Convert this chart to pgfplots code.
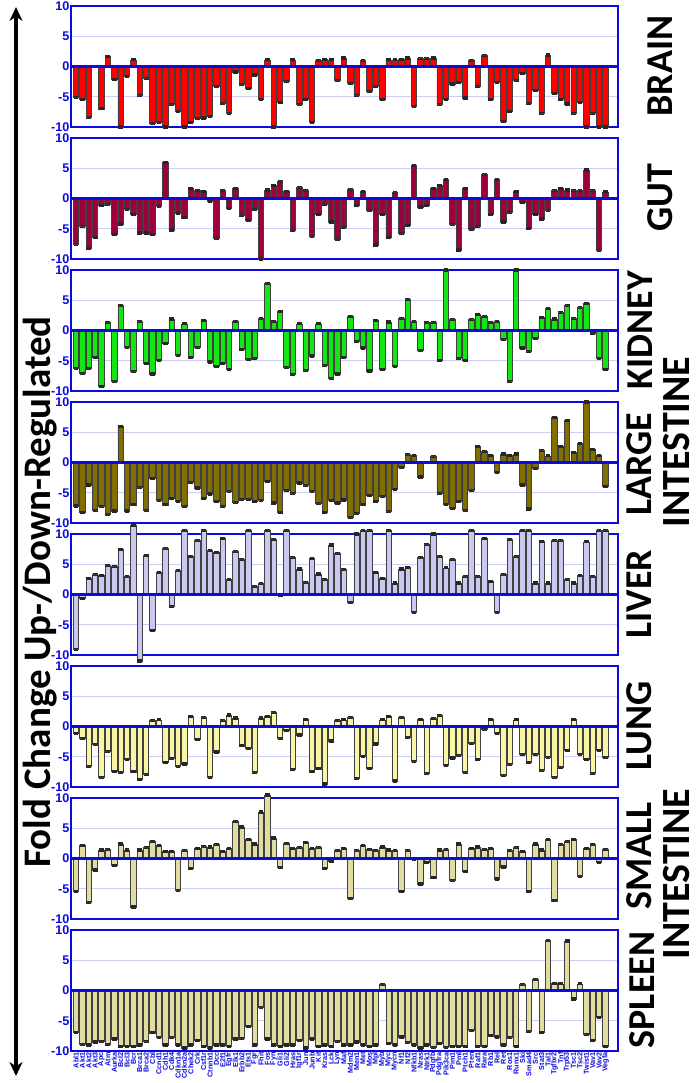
\documentclass[border=0pt]{standalone}
\usepackage{pgfplots}
\pgfplotsset{compat=1.18}
\usepackage{pgfplotstable}
\usepackage{fontspec}
\setmainfont{Carlito}
\newfontfamily\arialfont{Liberation Sans}
\usetikzlibrary{arrows.meta}
\definecolor{axblue}{RGB}{10,10,225}
\definecolor{gridlav}{RGB}{205,205,245}
\definecolor{cbrain}{RGB}{255,0,0}
\definecolor{cgut}{RGB}{158,0,62}
\definecolor{ckidney}{RGB}{20,230,20}
\definecolor{clarge}{RGB}{128,110,0}
\definecolor{cliver}{RGB}{200,200,240}
\definecolor{clung}{RGB}{250,245,165}
\definecolor{csmall}{RGB}{225,220,160}
\definecolor{cspleen}{RGB}{225,220,160}

\pgfplotstableread[row sep=\\]{v\\ -5.1\\ -5.5\\ -8.4\\ 0\\ -7.0\\ 1.7\\ -2.2\\ -10\\ -1.7\\ 1.1\\ -4.8\\ -2.0\\ -9.4\\ -9.3\\ -10\\ -6.3\\ -7.4\\ -10\\ -9.2\\ -8.6\\ -8.5\\ -8.2\\ -3.3\\ -6.1\\ -7.8\\ -0.9\\ -3.0\\ -3.6\\ -1.4\\ -5.4\\ 1.1\\ -10\\ -6.0\\ -2.5\\ 1.1\\ -6.3\\ -5.4\\ -9.2\\ 1.0\\ 1.2\\ 1.1\\ -2.3\\ 1.4\\ -2.8\\ -4.8\\ 1.0\\ -4.1\\ -3.3\\ -5.4\\ 1.1\\ 1.1\\ 1.2\\ 1.4\\ -6.6\\ 1.3\\ 1.3\\ 1.4\\ -6.3\\ -5.5\\ -2.9\\ -2.6\\ -5.2\\ 1.0\\ -3.3\\ 1.8\\ -5.5\\ -2.6\\ -9.1\\ -7.4\\ -2.3\\ -1.2\\ -6.1\\ -4.0\\ -7.8\\ 1.9\\ -4.4\\ -5.5\\ -6.2\\ -7.8\\ -6.0\\ -10\\ -7.8\\ -10\\ -10\\}\tbrain

\pgfplotstableread[row sep=\\]{v\\ -7.6\\ -4.6\\ -8.3\\ -6.4\\ -1.2\\ -1.0\\ -6.0\\ -4.2\\ -1.8\\ -2.6\\ -5.7\\ -5.7\\ -5.9\\ -1.3\\ 6.0\\ -5.2\\ -2.4\\ -3.2\\ 1.7\\ 1.3\\ 1.2\\ -0.4\\ -6.6\\ 1.3\\ -1.6\\ 1.7\\ -2.8\\ -3.6\\ -1.8\\ -10\\ 1.4\\ 2.2\\ 2.8\\ 1.2\\ -5.3\\ 1.8\\ 1.3\\ -6.3\\ -2.7\\ -1.0\\ -3.9\\ -6.8\\ -4.8\\ 1.5\\ -1.2\\ 1.2\\ -2.0\\ -7.7\\ -2.6\\ -6.4\\ 1.0\\ -5.8\\ -4.4\\ 5.4\\ -1.4\\ -1.2\\ 1.6\\ 2.2\\ 3.1\\ -4.3\\ -8.5\\ 1.7\\ -5.1\\ -4.6\\ 4.0\\ -2.6\\ 3.1\\ -3.9\\ -2.3\\ 1.2\\ -0.6\\ -4.9\\ -2.6\\ -3.4\\ -2.0\\ 1.3\\ 1.7\\ 1.4\\ 1.3\\ 1.3\\ 4.7\\ 1.3\\ -8.6\\ 1.1\\}\tgut

\pgfplotstableread[row sep=\\]{v\\ -6.3\\ -7.1\\ -6.3\\ -4.4\\ -9.2\\ 1.3\\ -8.4\\ 4.1\\ -2.8\\ -6.8\\ 1.5\\ -5.4\\ -7.2\\ -5.0\\ -2.1\\ 1.9\\ -4.1\\ 1.1\\ -4.4\\ -2.8\\ 1.7\\ -5.2\\ -6.0\\ -5.4\\ -6.4\\ 1.5\\ -3.1\\ -4.8\\ -4.6\\ 2.0\\ 7.8\\ 1.5\\ 3.1\\ -6.1\\ -7.3\\ 1.1\\ -6.6\\ -4.2\\ 1.1\\ -5.8\\ -7.9\\ -7.2\\ -4.5\\ 2.3\\ -1.8\\ -2.9\\ -6.7\\ 1.6\\ -6.5\\ 1.4\\ -5.9\\ 2.0\\ 5.1\\ 1.5\\ -3.3\\ 1.3\\ 1.3\\ -5.0\\ 10\\ 1.8\\ -4.6\\ -5.0\\ 1.8\\ 2.6\\ 2.3\\ 1.3\\ 1.5\\ -1.5\\ -8.4\\ 10\\ -2.9\\ -3.5\\ -1.3\\ 2.2\\ 3.7\\ 1.9\\ 3.0\\ 4.1\\ 2.0\\ 3.8\\ 4.5\\ -0.4\\ -4.6\\ -6.4\\}\tkidney

\pgfplotstableread[row sep=\\]{v\\ -7.2\\ -8.3\\ -3.7\\ -7.9\\ -7.3\\ -8.6\\ -8.0\\ 6.0\\ -8.0\\ -7.0\\ -4.1\\ -7.9\\ -2.7\\ -6.3\\ -7.0\\ -6.0\\ -6.5\\ -7.3\\ -3.3\\ -4.2\\ -6.0\\ -5.2\\ -6.5\\ -7.3\\ -4.8\\ -6.6\\ -6.1\\ -6.1\\ -6.4\\ -6.3\\ -3.1\\ -6.7\\ -8.2\\ -4.6\\ -5.1\\ -3.4\\ -3.8\\ -4.8\\ -6.8\\ -8.3\\ -6.3\\ -6.7\\ -6.2\\ -9.1\\ -8.4\\ -7.0\\ -5.5\\ -6.4\\ -5.6\\ -8.1\\ -4.4\\ -0.8\\ 1.3\\ 1.2\\ -2.4\\ 0\\ 1.0\\ -5.1\\ -6.9\\ -7.6\\ -6.4\\ -7.9\\ -4.6\\ 2.6\\ 1.8\\ 1.2\\ -1.7\\ 1.4\\ 1.2\\ 1.4\\ -3.7\\ -7.7\\ -1.0\\ 2.0\\ 1.1\\ 7.5\\ 2.7\\ 6.9\\ 1.6\\ 3.1\\ 10\\ 2.2\\ 1.2\\ -4.0\\ -1.4\\ 1.9\\ -8.3\\ -0.8\\}\tlarge

\pgfplotstableread[row sep=\\]{v\\ -9.1\\ -0.6\\ 2.7\\ 3.3\\ 3.1\\ 4.8\\ 4.6\\ 7.4\\ 3.0\\ 11.5\\ -11\\ 6.5\\ -6.0\\ 3.6\\ 7.6\\ -2.0\\ 4.0\\ 10.6\\ 6.3\\ 8.9\\ 10.6\\ 7.3\\ 7.0\\ 9.2\\ 2.5\\ 7.1\\ 5.8\\ 10.6\\ 1.3\\ 1.8\\ 10.6\\ 9.1\\ -0.2\\ 10.6\\ 6.1\\ 4.2\\ 2.0\\ 5.9\\ 3.4\\ 2.5\\ 8.2\\ 6.8\\ 4.1\\ -1.3\\ 10\\ 10.6\\ 10.6\\ 3.6\\ 2.7\\ 10.6\\ 1.9\\ 4.2\\ 4.5\\ -3.0\\ 6.1\\ 8.3\\ 10\\ 6.3\\ 4.4\\ 5.8\\ 1.9\\ 3.0\\ 10.6\\ 3.0\\ 9.3\\ 2.1\\ -3.0\\ 3.3\\ 9.1\\ 6.3\\ 10.6\\ 10.6\\ 1.9\\ 8.8\\ 1.9\\ 8.9\\ 8.9\\ 2.5\\ 1.9\\ 3.2\\ 8.7\\ 3.0\\ 10.6\\ 10.6\\ 5.0\\ -3.5\\ 5.3\\}\tliver

\pgfplotstableread[row sep=\\]{v\\ -1.1\\ -2.0\\ -6.6\\ -3.0\\ -8.4\\ -4.1\\ -7.4\\ -7.6\\ -5.4\\ -7.5\\ -8.8\\ -7.9\\ 1.0\\ 1.1\\ -6.0\\ -5.3\\ -6.6\\ -6.2\\ 1.7\\ -2.2\\ 1.5\\ -8.4\\ -4.2\\ 1.0\\ 1.9\\ 1.4\\ -3.2\\ -3.6\\ -7.6\\ 1.4\\ 1.6\\ 2.3\\ -2.0\\ -0.6\\ -7.1\\ -1.4\\ 1.2\\ -7.5\\ -7.0\\ -9.5\\ -2.4\\ 1.0\\ 1.1\\ 1.5\\ -8.6\\ -5.0\\ -6.9\\ -2.9\\ 1.1\\ 1.6\\ -9.0\\ 1.5\\ -1.8\\ -5.8\\ 1.2\\ -7.8\\ 1.3\\ 1.8\\ -6.5\\ -5.2\\ -4.8\\ -7.6\\ -2.8\\ -5.4\\ -0.5\\ 1.2\\ -1.1\\ -8.1\\ -6.3\\ 1.1\\ -4.6\\ -6.0\\ -4.6\\ -7.3\\ -5.1\\ -8.4\\ -6.8\\ -4.0\\ 1.2\\ -4.6\\ -5.4\\ -7.8\\ -3.9\\ -5.1\\ -7.3\\ -4.9\\ -8.8\\ -4.4\\}\tlung

\pgfplotstableread[row sep=\\]{v\\ -5.4\\ 2.1\\ -7.3\\ -1.9\\ 1.4\\ 1.5\\ -1.2\\ 2.4\\ 1.4\\ -8.0\\ 1.4\\ 1.8\\ 2.8\\ 2.1\\ 1.2\\ 1.2\\ -5.3\\ 1.3\\ -1.7\\ 1.6\\ 2.0\\ 1.9\\ 2.3\\ 1.2\\ 1.7\\ 6.1\\ 5.2\\ 3.1\\ 2.4\\ 7.7\\ 10.5\\ 3.4\\ -1.5\\ 2.5\\ 1.6\\ 1.8\\ 2.6\\ 1.6\\ 1.8\\ -1.7\\ -0.4\\ 1.3\\ 1.6\\ -6.6\\ 1.3\\ 2.2\\ 1.5\\ 1.3\\ 1.9\\ 1.4\\ 1.3\\ -5.5\\ 1.3\\ -0.2\\ -4.2\\ -0.6\\ -3.2\\ 1.4\\ 1.5\\ -3.6\\ 2.4\\ -2.1\\ 1.6\\ 1.9\\ 1.5\\ 1.7\\ -3.4\\ -1.4\\ 1.3\\ 1.8\\ 1.2\\ -5.5\\ 2.4\\ 1.4\\ 3.1\\ -7.0\\ 2.3\\ 2.8\\ 3.2\\ -3.0\\ 1.7\\ 2.3\\ -0.6\\ 1.5\\ 1.4\\ -9.5\\ 2.3\\ 4.3\\}\tsmall

\pgfplotstableread[row sep=\\]{v\\ -6.9\\ -8.9\\ -9.0\\ -8.5\\ -8.4\\ -8.9\\ -8.0\\ -9.2\\ -9.2\\ -9.2\\ -9.0\\ -8.4\\ -7.0\\ -7.8\\ -9.0\\ -7.8\\ -9.0\\ -9.5\\ -9.0\\ -8.3\\ -9.2\\ -9.5\\ -9.0\\ -9.0\\ -9.2\\ -8.0\\ -7.9\\ -6.0\\ -9.0\\ -2.8\\ -8.0\\ -9.0\\ -9.2\\ -9.0\\ -9.0\\ -8.3\\ -9.5\\ -8.0\\ -9.2\\ -9.0\\ -9.2\\ -8.4\\ -9.0\\ -9.0\\ -8.5\\ -9.0\\ -9.2\\ -9.0\\ 1.0\\ -8.8\\ -9.0\\ -7.7\\ -8.6\\ -9.0\\ -9.5\\ -9.0\\ -9.4\\ -8.7\\ -9.4\\ -9.2\\ -9.2\\ -9.3\\ -6.6\\ -9.2\\ -9.2\\ -7.5\\ -7.7\\ -9.0\\ -7.8\\ -9.2\\ 1.0\\ -6.8\\ 1.8\\ -6.9\\ 8.3\\ 1.2\\ 1.1\\ 8.2\\ -1.4\\ 1.1\\ -7.3\\ -8.2\\ -4.5\\ -9.3\\ -6.3\\}\tspleen

\pgfplotsset{
  panel/.style={
    scale only axis, width=273.5pt, height=60.5pt,
    xmin=-0.78, xmax=84.97, ymin=-10, ymax=10,
    ytick={-10,-5,0,5,10}, xtick=\empty,
    /pgf/number format/assume math mode=true,
    yticklabel style={font=\arialfont\bfseries\fontsize{6.3}{7}\selectfont, text=axblue, inner sep=0.6pt},
    major tick length=0pt,
    axis line style={draw=axblue, line width=0.9pt},
    ymajorgrids, grid style={draw=gridlav, line width=0.6pt},
    clip=false, anchor=north west,
    ybar, bar width=0.84,
    restrict x to domain=-1:83.6,
  },
  bars/.style={fill=#1, draw=black!75, line width=0.35pt,
    error bars/.cd, y dir=both, y fixed=0.15,
    error bar style={black!85, line width=0.4pt},
    error mark options={rotate=90, mark size=1.2pt, black!85, line width=0.7pt}},
}

\newcommand{\panel}[3]{%
  \begin{axis}[panel, at={(35.5pt,{-3pt-#1*66pt})}]
    \addplot[bars=#3] table[x expr=\coordindex, y=v] {#2};
    \draw[axblue, line width=1.1pt] (axis cs:-0.78,0) -- (axis cs:84.97,0);
  \end{axis}}

\begin{document}
\begin{tikzpicture}
\path[use as bounding box] (0,0) rectangle (350pt,-541.5pt);
\panel{0}{\tbrain}{cbrain}
\panel{1}{\tgut}{cgut}
\panel{2}{\tkidney}{ckidney}
\panel{3}{\tlarge}{clarge}
\panel{4}{\tliver}{cliver}
\panel{5}{\tlung}{clung}
\panel{6}{\tsmall}{csmall}
\begin{axis}[panel, at={(35.5pt,{-3pt-7*66pt})},
    xtick={0,...,83},
    xticklabels={Abl1,Akt1,Akt2,Akt3,Apc,Atm,Aurka,Bcl2,Bcl3,Bcr,Brca1,Brca2,Cbl,Ccnd1,Cdh1,Cdk4,Cdkn1a,Cdkn2a,Chek2,Crk,Csf1r,Ctnnb1,Dcc,E2f1,Egfr,Elk1,Erbb2,Ets1,Fgr,Fhit,Fos,Fyn,Gli1,Gli2,Hras,Igf1r,Jun,Junb,Kit,Kras,Lck,Lyn,Maf,Mdm2,Men1,Met,Mos,Mpl,Myb,Myc,Mycn,Nf1,Nf2,Nfkb1,Nras,Ntrk1,Pdgfb,Pdgfra,Pik3ca,Pim1,Pml,Ptch1,Pten,Raf1,Rara,Rb1,Rel,Ret,Ros1,Runx1,Ski,Smad4,Src,Stat3,Tal1,Tgfbr2,Tnf,Trp53,Tsc1,Tsc2,Twist1,Vav1,Vav2,Vegfa},
    xticklabel style={rotate=90, anchor=east, font=\arialfont\bfseries\fontsize{3.6}{4}\selectfont, text=axblue, inner sep=0.5pt}]
    \addplot[bars=cspleen] table[x expr=\coordindex, y=v] {\tspleen};
    \draw[axblue, line width=1.1pt] (axis cs:-0.78,0) -- (axis cs:84.97,0);
\end{axis}
\draw[{Stealth[length=7pt,width=6.5pt]}-{Stealth[length=7pt,width=6.5pt]}, line width=1.6pt] (8pt,-3.5pt) -- (8pt,-538pt);
\node[rotate=90, inner sep=0pt, font=\bfseries\fontsize{19.5}{22}\selectfont] at (20pt,-296pt) {Fold Change Up-/Down-Regulated};
\begin{scope}[every node/.style={rotate=90, inner sep=0pt, font=\bfseries\fontsize{19}{21}\selectfont}]
\node at (330pt,-33pt) {BRAIN};
\node at (330pt,-99pt) {GUT};
\node at (320pt,-165pt) {KIDNEY};
\node at (319.5pt,-232pt) {LARGE};
\node[font=\bfseries\fontsize{20}{22}\selectfont] at (338.5pt,-221pt) {INTESTINE};
\node at (319.5pt,-297pt) {LIVER};
\node at (319.5pt,-363pt) {LUNG};
\node at (319.5pt,-428pt) {SMALL};
\node[font=\bfseries\fontsize{20}{22}\selectfont] at (338.5pt,-437pt) {INTESTINE};
\node at (321pt,-495pt) {SPLEEN};
\end{scope}
\end{tikzpicture}
\end{document}
